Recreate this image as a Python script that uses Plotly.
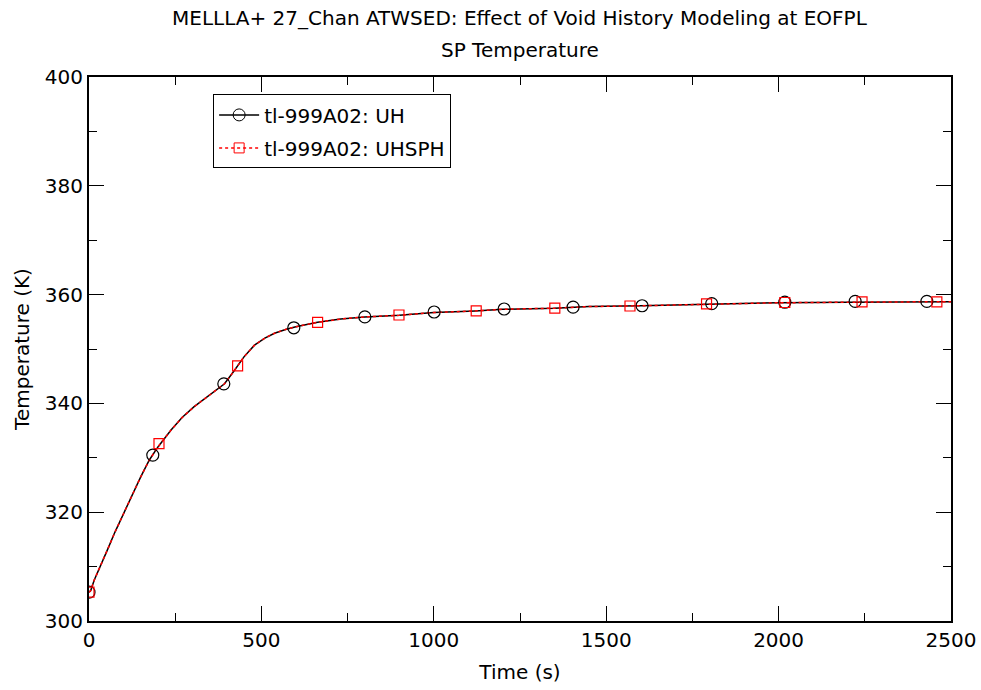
import plotly.graph_objects as go

# Curve (both cases nearly identical)
time_line = [0, 5, 15, 35, 55, 75, 100, 125, 150, 175, 200, 238, 270, 305, 350, 393, 420, 450, 480,
             510, 538, 570, 600, 663, 730, 800, 900, 1000, 1120, 1200, 1350, 1450, 1600, 1700, 1800,
             1900, 2000, 2200, 2350, 2500]
temp_uh = [305.3, 305.6, 307.5, 310.3, 313.3, 316.3, 319.8, 323.2, 326.5, 329.6, 332.0, 335.1, 337.4,
           339.4, 341.6, 343.6, 345.9, 348.6, 350.7, 352.0, 352.9, 353.6, 354.1, 354.9, 355.5, 355.9,
           356.2, 356.7, 357.0, 357.3, 357.5, 357.8, 357.95, 358.1, 358.3, 358.4, 358.5, 358.6,
           358.65, 358.7]
temp_uhsph = [305.3, 305.6, 307.5, 310.3, 313.3, 316.3, 319.8, 323.2, 326.5, 329.6, 332.0, 335.1, 337.4,
              339.4, 341.6, 343.6, 345.9, 348.6, 350.7, 352.0, 352.9, 353.6, 354.1, 354.9, 355.5, 355.9,
              356.2, 356.7, 357.0, 357.3, 357.5, 357.8, 357.95, 358.1, 358.3, 358.4, 358.5, 358.6,
              358.65, 358.7]

# Marker samples
uh_mark_t = [0, 185, 391, 594, 800, 1001, 1204, 1404, 1604, 1806, 2018, 2222, 2430]
uh_mark_T = [305.3, 330.5, 343.6, 353.9, 355.9, 356.8, 357.35, 357.7, 357.95, 358.35, 358.6, 358.75, 358.75]
sph_mark_t = [0, 203, 431, 663, 899, 1123, 1351, 1569, 1791, 2018, 2242, 2459]
sph_mark_T = [305.3, 332.6, 346.9, 354.9, 356.25, 357.0, 357.5, 357.9, 358.3, 358.55, 358.65, 358.65]

title_lines = ["MELLLA+ 27_Chan ATWSED: Effect of Void History Modeling at EOFPL", "SP Temperature"]

FONT = "DejaVu Sans, sans-serif"
FS = 20

fig = go.Figure()
fig.add_trace(go.Scatter(x=time_line, y=temp_uh, mode="lines", line=dict(color="black", width=1.5),
                         showlegend=False, hoverinfo="skip"))
fig.add_trace(go.Scatter(x=time_line, y=temp_uhsph, mode="lines",
                         line=dict(color="red", width=1.5, dash="dot"), showlegend=False, hoverinfo="skip"))
fig.add_trace(go.Scatter(x=uh_mark_t, y=uh_mark_T, mode="markers",
                         marker=dict(symbol="circle-open", size=12, color="black", line=dict(width=1.2)),
                         showlegend=False))
fig.add_trace(go.Scatter(x=sph_mark_t, y=sph_mark_T, mode="markers",
                         marker=dict(symbol="square-open", size=10, color="red", line=dict(width=1.2)),
                         showlegend=False))
# legend entries
fig.add_trace(go.Scatter(x=[None], y=[None], mode="lines+markers", name="tl-999A02: UH",
                         legendgroup="a",
                         line=dict(color="black", width=1.5),
                         marker=dict(symbol="circle-open", size=12, color="black")))
fig.add_trace(go.Scatter(x=[None], y=[None], mode="lines+markers", name="tl-999A02: UHSPH",
                         legendgroup="b",
                         line=dict(color="red", width=1.5, dash="dot"),
                         marker=dict(symbol="square-open", size=10, color="red")))

axis_common = dict(showgrid=False, zeroline=False, showline=True, linecolor="black", linewidth=2,
                   mirror="allticks", ticks="inside", ticklen=15, tickwidth=1, tickcolor="black",
                   automargin=False,
                   tickfont=dict(family=FONT, size=FS, color="black"))

for i, (txt, yp) in enumerate(zip(title_lines, [1.1085, 1.0496])):
    fig.add_annotation(text=txt, xref="paper", yref="paper", x=0.5, y=yp, xanchor="center",
                       yanchor="middle", showarrow=False, font=dict(family=FONT, size=FS, color="black"))

fig.update_layout(
    width=981, height=690,
    margin=dict(l=89, r=30, t=77, b=69),
    paper_bgcolor="white", plot_bgcolor="white",
    font=dict(family=FONT, color="black"),
    xaxis=dict(range=[0, 2500], tickvals=[0, 500, 1000, 1500, 2000, 2500],
               minor=dict(ticks="inside", ticklen=8, dtick=250, tickcolor="black", showgrid=False),
               title=dict(text="Time (s)", font=dict(family=FONT, size=FS), standoff=14), **axis_common),
    yaxis=dict(range=[300, 400], tickvals=[300, 320, 340, 360, 380, 400],
               minor=dict(ticks="inside", ticklen=8, dtick=10, tickcolor="black", showgrid=False),
               title=dict(text="Temperature (K)", font=dict(family=FONT, size=FS), standoff=10), **axis_common),
    legend=dict(x=0.144, y=0.968, xanchor="left", yanchor="top", bgcolor="white",
                bordercolor="black", borderwidth=1,
                font=dict(family=FONT, size=FS, color="black"), itemwidth=40, tracegroupgap=4),
)

fig.write_html("out.html")
